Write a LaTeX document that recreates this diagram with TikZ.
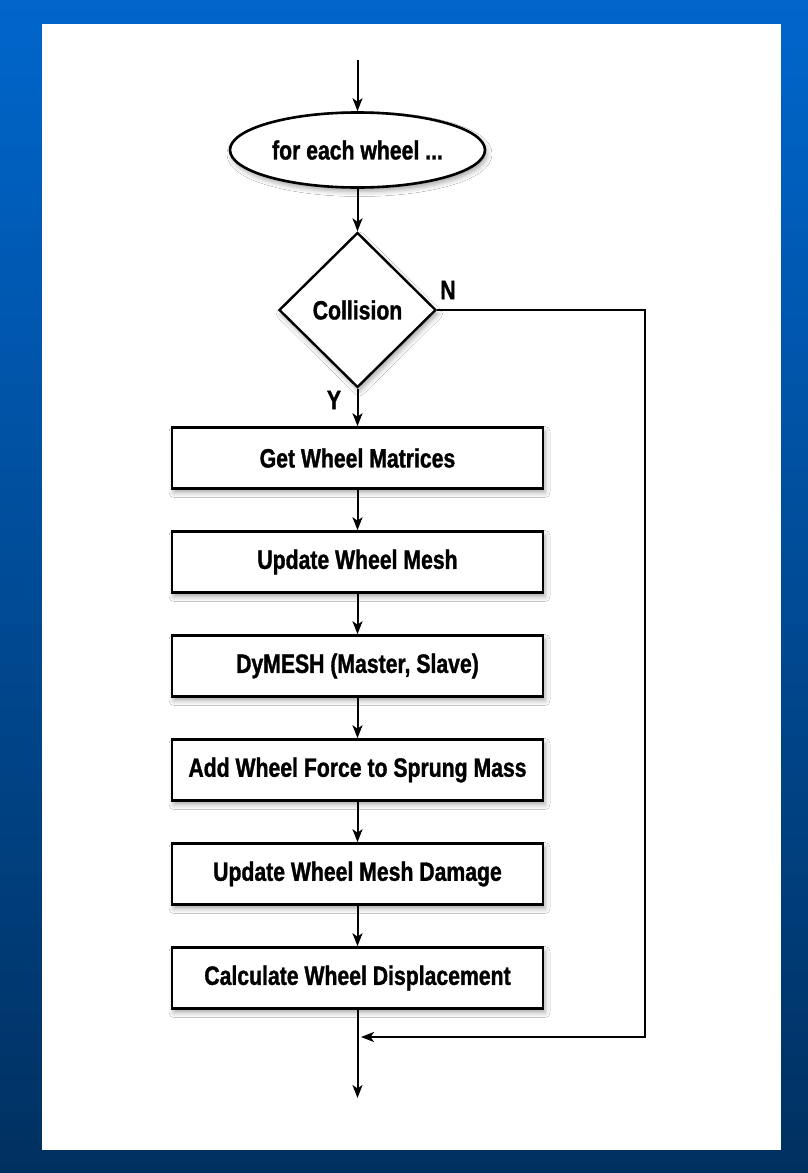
\documentclass[tikz,border=0pt]{standalone}
\usepackage{fontspec}
\setmainfont[FakeStretch=0.8,BoldFeatures={FakeBold=1.2}]{Liberation Sans}
\usetikzlibrary{shapes.geometric,arrows.meta,shadows.blur}
\definecolor{bgtop}{HTML}{0066CC}
\definecolor{bgbot}{HTML}{003060}
\begin{document}
\begin{tikzpicture}[x=1pt,y=-1pt,
  shadowed/.style={blur shadow={shadow xshift=2pt,shadow yshift=-4pt,shadow blur radius=5pt,shadow opacity=35}},
  txt/.style={font=\bfseries\fontsize{26.5}{30}\selectfont},
  procbox/.style={rectangle,draw=black,line width=2.6pt,fill=white,minimum width=371pt,minimum height=61pt,inner sep=0pt,shadowed,txt},
  arr/.style={line width=2pt,-{Stealth[length=13pt,width=10pt,inset=3.5pt]}},
  lbl/.style={txt,inner sep=0pt}]
\useasboundingbox (0,0) rectangle (808,1173);
\shade[top color=bgtop,bottom color=bgbot] (0,0) rectangle (808,1173);
\fill[white] (42,24) rectangle (781,1150);

\coordinate (start) at (357.5,60);
\node[ellipse,draw=black,line width=2.6pt,fill=white,minimum width=255pt,minimum height=75pt,inner sep=0pt,shadowed,txt] (loop) at (357.5,150) {for each wheel ...};
\node[diamond,draw=black,line width=2.4pt,fill=white,minimum width=157pt,minimum height=155pt,inner sep=0pt,shadowed,txt] (coll) at (357.5,310) {Collision};
\node[procbox] (b1) at (357.5,458) {Get Wheel Matrices};
\node[procbox] (b2) at (357.5,562) {Update Wheel Mesh};
\node[procbox] (b3) at (357.5,666) {DyMESH (Master, Slave)};
\node[procbox] (b4) at (357.5,770) {Add Wheel Force to Sprung Mass};
\node[procbox] (b5) at (357.5,874) {Update Wheel Mesh Damage};
\node[procbox] (b6) at (357.5,978) {Calculate Wheel Displacement};
\coordinate (join) at (361,1037);
\coordinate (rc) at (645,1037);
\coordinate (fin) at (357.5,1098);

\node[lbl] (nlab) at (448,290) {N};
\node[lbl] (ylab) at (334,400) {Y};

\draw[arr] (start) -- (loop.north);
\draw[arr] (loop.south) -- (coll.north);
\draw[arr] (coll.south) -- (b1.north);
\draw[arr] (b1.south) -- (b2.north);
\draw[arr] (b2.south) -- (b3.north);
\draw[arr] (b3.south) -- (b4.north);
\draw[arr] (b4.south) -- (b5.north);
\draw[arr] (b5.south) -- (b6.north);
\draw[arr] (b6.south) -- (fin);
\draw[arr] (coll.east) -| (rc) -- (join);
\end{tikzpicture}
\end{document}
